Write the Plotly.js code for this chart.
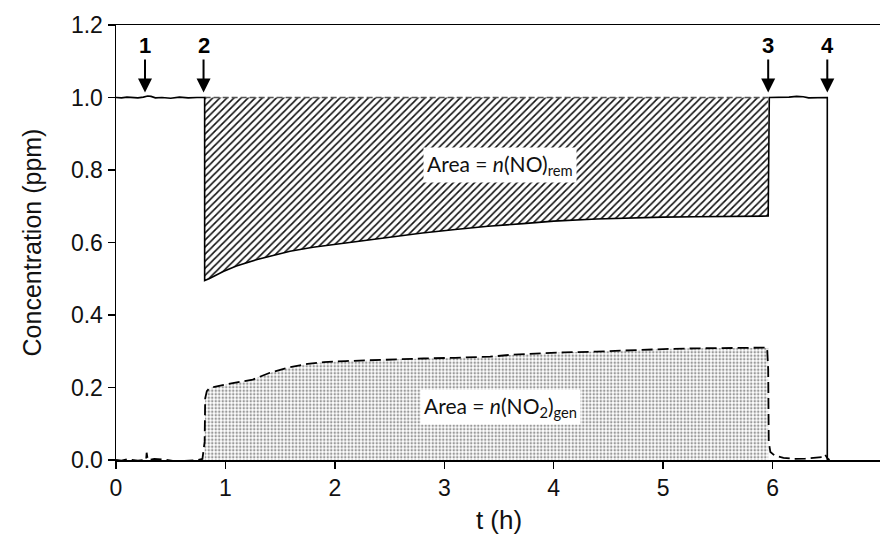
<!DOCTYPE html>
<html>
<head>
<meta charset="utf-8">
<script src="https://cdn.plot.ly/plotly-3.0.1.min.js"></script>
<style>
html,body{margin:0;padding:0;background:#fff;overflow:hidden;width:880px;height:542px;}
#chart{width:886px;height:542px;}
</style>
</head>
<body>
<div id="chart"></div>
<script>
// ---- data ----
var feedConc = 1.0;            // inlet NO concentration (ppm)
var hatchStart = 0.81;         // event 2 (h)
var hatchEnd = 5.96;           // event 3 (h)

// NO outlet concentration, before / during / after irradiation
var noBeforeT = [0, 0.05, 0.1, 0.15, 0.2, 0.25, 0.29, 0.32, 0.36, 0.42, 0.5, 0.58, 0.66, 0.74, 0.81];
var noBeforeV = [1.0, 0.999, 1.001, 1.0, 0.999, 1.001, 1.004, 1.003, 0.999, 1.0, 0.998, 1.001, 0.999, 1.0, 1.0];
var noDuringT = [0.81, 0.85, 0.98, 1.1, 1.29, 1.45, 1.59, 1.8, 2.05, 2.3, 2.5, 2.8, 3.1, 3.4, 3.72, 4.0, 4.39, 4.7, 5.0, 5.3, 5.6, 5.96];
var noDuringV = [0.495, 0.5, 0.52, 0.535, 0.553, 0.566, 0.576, 0.587, 0.597, 0.607, 0.616, 0.626, 0.636, 0.645, 0.652, 0.659, 0.665, 0.668, 0.67, 0.671, 0.672, 0.673];
var noAfterT = [5.97, 6.05, 6.15, 6.22, 6.28, 6.33, 6.4, 6.47, 6.5, 6.5];
var noAfterV = [1.0, 1.0, 1.001, 1.003, 1.002, 0.999, 1.0, 1.0, 1.0, 0.0];

// NO2 outlet concentration
var no2BeforeT = [0, 0.05, 0.1, 0.15, 0.2, 0.26, 0.275, 0.28, 0.29, 0.35, 0.45, 0.55, 0.65, 0.75, 0.79];
var no2BeforeV = [0.0, -0.002, 0.002, 0.0, -0.002, 0.0, 0.0, 0.02, 0.0, 0.003, 0.001, -0.004, -0.002, 0.0, 0.003];
var no2DuringT = [0.81, 0.815, 0.83, 0.85, 0.9, 1.0, 1.1, 1.25, 1.4, 1.59, 1.75, 1.9, 2.1, 2.36, 2.6, 2.81, 3.1, 3.42, 3.6, 3.85, 4.1, 4.39, 4.7, 5.0, 5.3, 5.6, 5.91, 5.95];
var no2DuringV = [0.05, 0.17, 0.19, 0.197, 0.202, 0.208, 0.213, 0.222, 0.24, 0.256, 0.265, 0.27, 0.273, 0.276, 0.278, 0.28, 0.282, 0.285, 0.29, 0.294, 0.297, 0.299, 0.303, 0.306, 0.308, 0.309, 0.311, 0.31];
var no2AfterT = [5.96, 5.965, 5.98, 6.02, 6.1, 6.2, 6.3, 6.4, 6.46, 6.48, 6.5, 6.52];
var no2AfterV = [0.25, 0.05, 0.022, 0.012, 0.006, 0.003, 0.004, 0.006, 0.008, 0.015, 0.005, 0.0];

// event markers
var eventTimes = [0.265, 0.80, 5.96, 6.50];
var eventLabels = ['1', '2', '3', '4'];

// area labels
var areaLabels = ['Area = <i>n</i>(NO)<sub>rem</sub>', 'Area = <i>n</i>(NO<sub>2</sub>)<sub>gen</sub>'];
var areaLabelT = [3.51, 3.51];
var areaLabelV = [0.815, 0.145];

var yTicks = [0, 0.2, 0.4, 0.6, 0.8, 1.0, 1.2];
var xTicks = [0, 1, 2, 3, 4, 5, 6, 7];

// ---- traces ----
var noT = noBeforeT.concat(noDuringT, noAfterT);
var noV = noBeforeV.concat(noDuringV, noAfterV);
var no2T = no2BeforeT.concat(no2DuringT, no2AfterT);
var no2V = no2BeforeV.concat(no2DuringV, no2AfterV);

var traces = [
  { // NO2 generated area (dotted)
    x: no2DuringT.concat([hatchEnd]), y: no2DuringV.concat([no2DuringV[no2DuringV.length-1]]),
    mode: 'lines', line: {width: 0, color: 'rgba(0,0,0,0)'},
    fill: 'tozeroy', fillcolor: 'white',
    fillpattern: {shape: '.', fgcolor: '#9a9a9a', bgcolor: '#ffffff', size: 3.5, solidity: 0.4},
    hoverinfo: 'skip', showlegend: false
  },
  { // top of NO removed area: feed line
    x: [hatchStart, hatchEnd], y: [feedConc, feedConc],
    mode: 'lines', line: {color: '#555', width: 1.5, dash: '6px,3px'},
    hoverinfo: 'skip', showlegend: false
  },
  { // NO removed area (hatched)
    x: noDuringT, y: noDuringV,
    mode: 'lines', line: {width: 0, color: 'rgba(0,0,0,0)'},
    fill: 'tonexty', fillcolor: 'white',
    fillpattern: {shape: '/', fgcolor: '#111', bgcolor: '#fff', size: 5, solidity: 0.32},
    hoverinfo: 'skip', showlegend: false
  },
  { // NO
    x: noT, y: noV, mode: 'lines',
    line: {color: '#000', width: 1.6},
    hoverinfo: 'skip', showlegend: false
  },
  { // NO2
    x: no2T, y: no2V, mode: 'lines',
    line: {color: '#000', width: 1.8, dash: '11px,5px'},
    hoverinfo: 'skip', showlegend: false
  }
];

var annotations = [];
for (var i = 0; i < eventTimes.length; i++) {
  annotations.push({
    x: eventTimes[i], y: feedConc, xref: 'x', yref: 'y',
    text: '<b>' + eventLabels[i] + '</b>',
    showarrow: true, arrowhead: 2, arrowsize: 1.4, arrowwidth: 2, arrowcolor: '#000',
    ax: 0, ay: -52, standoff: 5,
    font: {family: 'Liberation Sans, Arial, sans-serif', size: 22, color: '#000'}
  });
}
for (var j = 0; j < areaLabels.length; j++) {
  annotations.push({
    x: areaLabelT[j], y: areaLabelV[j], xref: 'x', yref: 'y',
    text: areaLabels[j], showarrow: false,
    bgcolor: '#fff', borderpad: 3,
    font: {family: 'Lato, Open Sans, sans-serif', size: 21, color: '#111'}
  });
}

var layout = {
  width: 886, height: 542,
  margin: {l: 116, r: 4, t: 25, b: 82, pad: 0},
  paper_bgcolor: '#fff', plot_bgcolor: '#fff',
  font: {family: 'Liberation Sans, Arial, sans-serif', color: '#111', size: 20},
  showlegend: false,
  xaxis: {
    range: [0, 7], tickvals: xTicks, ticktext: xTicks.map(String),
    ticks: 'outside', ticklen: 7, tickwidth: 1.5, tickcolor: '#000',
    showline: true, linecolor: '#000', linewidth: 1.5, mirror: true,
    showgrid: false, zeroline: false,
    tickfont: {size: 23},
    title: {text: 't (h)', font: {size: 26}, standoff: 10}
  },
  yaxis: {
    range: [0, 1.2], tickvals: yTicks, ticktext: yTicks.map(function(v){return v.toFixed(1);}),
    ticks: 'outside', ticklen: 7, tickwidth: 1.5, tickcolor: '#000',
    showline: true, linecolor: '#000', linewidth: 1.5, mirror: true,
    showgrid: false, zeroline: false,
    tickfont: {size: 23},
    title: {text: 'Concentration (ppm)', font: {size: 25}, standoff: 22}
  },
  annotations: annotations
};

Plotly.newPlot('chart', traces, layout, {displayModeBar: false, staticPlot: true});
</script>
</body>
</html>
